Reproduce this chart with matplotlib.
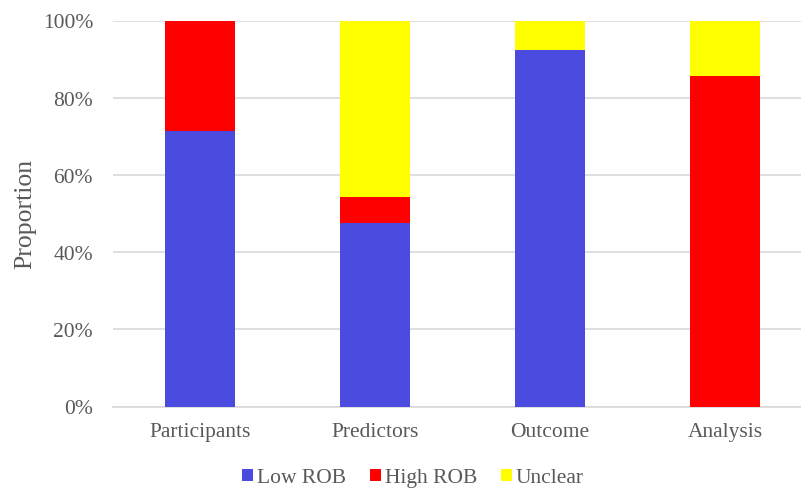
import matplotlib.pyplot as plt
import numpy as np

plt.rcParams['font.family'] = ['Liberation Serif', 'DejaVu Serif']

domains = ["Participants", "Predictors", "Outcome", "Analysis"]
low_rob = [71.4, 47.6, 92.4, 0.0]
high_rob = [28.6, 6.7, 0.0, 85.7]
unclear = [0.0, 45.7, 7.6, 14.3]

colors = {"Low ROB": "#4B4BE0", "High ROB": "#FF0000", "Unclear": "#FFFF00"}
text_gray = "#595959"
grid_gray = "#D9D9D9"

fig = plt.figure(figsize=(8.01, 4.89), dpi=100)
ax = fig.add_axes([112.5 / 801, 81.5 / 489, 700 / 801, 386 / 489])

x = np.arange(len(domains))
low = np.array(low_rob)
high = np.array(high_rob)
unc = np.array(unclear)
ax.bar(x, low, width=0.4, color=colors["Low ROB"], label="Low ROB", zorder=3)
ax.bar(x, high, width=0.4, bottom=low, color=colors["High ROB"], label="High ROB", zorder=3)
ax.bar(x, unc, width=0.4, bottom=low + high, color=colors["Unclear"], label="Unclear", zorder=3)

ax.set_xlim(-0.5, len(domains) - 0.5)
ax.set_ylim(0, 100)
ax.set_yticks(np.arange(0, 101, 20))
ax.set_yticklabels([f"{v}%" for v in range(0, 101, 20)])
ax.set_xticks(x)
ax.set_xticklabels(domains)
ax.yaxis.grid(True, color=grid_gray, linewidth=1.2, zorder=0)
ax.set_axisbelow(True)
for side in ["top", "right", "left"]:
    ax.spines[side].set_visible(False)
ax.spines["bottom"].set_color(grid_gray)
ax.spines["bottom"].set_linewidth(1.2)
ax.tick_params(axis="both", length=0, labelsize=15.5, colors=text_gray)
ax.tick_params(axis="y", pad=14)
ax.tick_params(axis="x", pad=11)
for lbl in ax.get_xticklabels() + ax.get_yticklabels():
    lbl.set_color(text_gray)

fig.text(25 / 801, 1 - 214 / 489, "Proportion", rotation=90, ha="center", va="center",
         fontsize=18.5, color=text_gray)

leg = fig.legend(loc="center", bbox_to_anchor=(413 / 801, 1 - 479 / 489), ncol=3,
                 frameon=False, fontsize=15.5, handlelength=0.5, handleheight=0.5,
                 handletextpad=0.2, columnspacing=1.1)
for t in leg.get_texts():
    t.set_color(text_gray)

fig.savefig("out.png", dpi=100)
